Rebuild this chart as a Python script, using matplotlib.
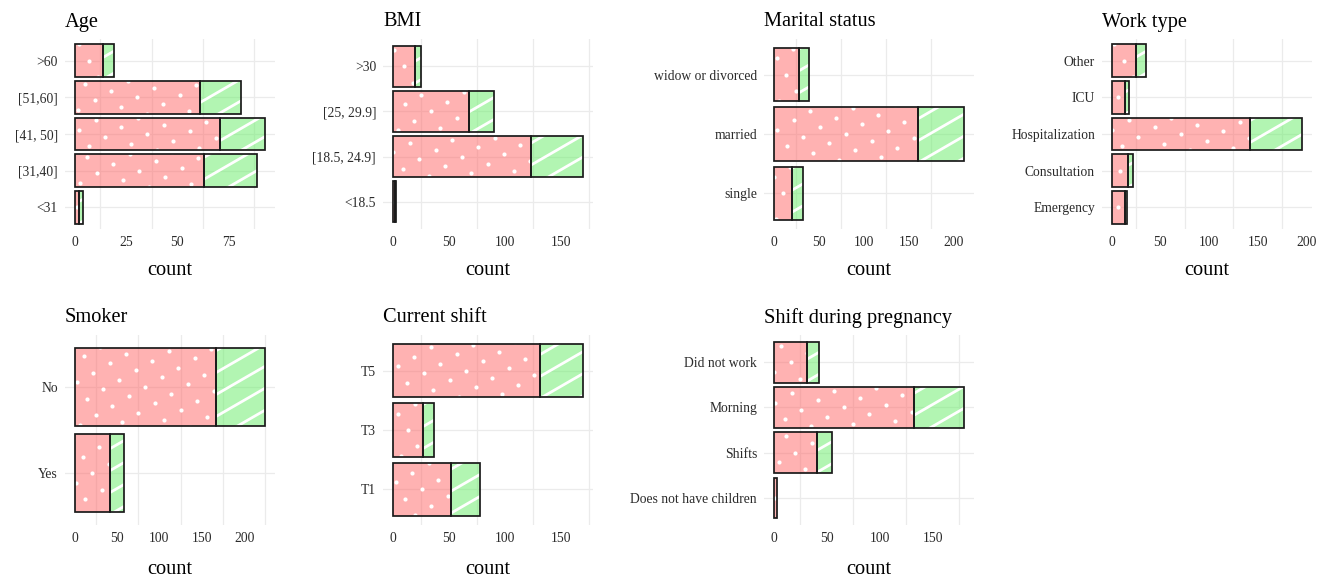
import numpy as np
import matplotlib
matplotlib.use('Agg')
import matplotlib.pyplot as plt

plt.rcParams['font.family'] = ['Liberation Serif', 'DejaVu Serif']

# data: categories listed bottom to top, counts per group (pink = first, green = second)
age_cats = ['<31', '[31,40]', '[41, 50]', '[51,60]', '>60']
age_pink = [2, 63, 71, 61, 14]
age_green = [2, 26, 22, 20, 5]

bmi_cats = ['<18.5', '[18.5, 24.9]', '[25, 29.9]', '>30']
bmi_pink = [2, 123, 68, 20]
bmi_green = [1, 47, 22, 5]

marital_cats = ['single', 'married', 'widow or divorced']
marital_pink = [21, 160, 28]
marital_green = [12, 52, 11]

work_cats = ['Emergency', 'Consultation', 'Hospitalization', 'ICU', 'Other']
work_pink = [14, 17, 142, 14, 25]
work_green = [2, 5, 54, 4, 10]

smoker_cats = ['Yes', 'No']
smoker_pink = [42, 167]
smoker_green = [16, 58]

shift_cats = ['T1', 'T3', 'T5']
shift_pink = [52, 27, 131]
shift_green = [26, 10, 39]

preg_cats = ['Does not have children', 'Shifts', 'Morning', 'Did not work']
preg_pink = [3, 41, 132, 32]
preg_green = [0, 14, 48, 11]

PINK = (1.0, 0.40, 0.40, 0.5)
GREEN = (0.40, 0.93, 0.40, 0.5)
GRID = '#EBEBEB'
SP = 19.0  # pattern spacing in pixels
ANG = np.deg2rad(30)

W, H = 1330, 578
fig = plt.figure(figsize=(W / 100, H / 100), dpi=100)


def px_axes(left, top, width=210, height=190):
    return fig.add_axes([left / W, 1 - (top + height) / H, width / W, height / H])


def rect_display(ax, x0, x1, y0, y1):
    pts = ax.transData.transform([[x0, y0], [x1, y1]])
    return pts[0][0], pts[1][0], pts[0][1], pts[1][1]


def add_dots(ax, rect):
    x0, y0 = rect.get_x(), rect.get_y()
    x1, y1 = x0 + rect.get_width(), y0 + rect.get_height()
    dx0, dx1, dy0, dy1 = rect_display(ax, x0, x1, y0, y1)
    u = SP * np.array([np.cos(ANG), np.sin(ANG)])
    v = SP * np.array([-np.sin(ANG), np.cos(ANG)])
    cx, cy = (dx0 + dx1) / 2, (dy0 + dy1) / 2
    r = int(np.hypot(dx1 - dx0, dy1 - dy0) / SP) + 2
    ii, jj = np.meshgrid(np.arange(-r, r + 1), np.arange(-r, r + 1))
    px = cx + ii.ravel() * u[0] + jj.ravel() * v[0]
    py = cy + ii.ravel() * u[1] + jj.ravel() * v[1]
    keep = (px > dx0 - 3) & (px < dx1 + 3) & (py > dy0 - 3) & (py < dy1 + 3)
    if not keep.any():
        return
    pts = ax.transData.inverted().transform(np.column_stack([px[keep], py[keep]]))
    sc = ax.scatter(pts[:, 0], pts[:, 1], s=9, color='white', linewidths=0, zorder=3)
    sc.set_clip_path(rect)


def add_stripes(ax, rect):
    x0, y0 = rect.get_x(), rect.get_y()
    x1, y1 = x0 + rect.get_width(), y0 + rect.get_height()
    dx0, dx1, dy0, dy1 = rect_display(ax, x0, x1, y0, y1)
    d = np.array([np.cos(ANG), np.sin(ANG)])
    nrm = np.array([-np.sin(ANG), np.cos(ANG)])
    cx, cy = (dx0 + dx1) / 2, (dy0 + dy1) / 2
    L = np.hypot(dx1 - dx0, dy1 - dy0)
    r = int(L / SP) + 2
    inv = ax.transData.inverted()
    for k in range(-r, r + 1):
        c = np.array([cx, cy]) + (k + 0.3) * SP * nrm
        seg = inv.transform([c - L * d, c + L * d])
        ln, = ax.plot(seg[:, 0], seg[:, 1], color='white', lw=2.0,
                      solid_capstyle='butt', zorder=3)
        ln.set_clip_path(rect)


def draw_panel(ax, cats, pink, green, ticks, title, lpad):
    n = len(cats)
    y = np.arange(n)
    pink = np.array(pink)
    green = np.array(green)
    xmax = (pink + green).max()
    ax.set_xlim(-0.05 * xmax, 1.05 * xmax)
    ax.set_ylim(-0.6, n - 1 + 0.6)

    bp = ax.barh(y, pink, height=0.9, color=PINK, edgecolor='none', zorder=2)
    bg = ax.barh(y, green, left=pink, height=0.9, color=GREEN, edgecolor='none', zorder=2)
    for rc, val in zip(bp, pink):
        if val > 0:
            add_dots(ax, rc)
    for rc, val in zip(bg, green):
        if val > 0:
            add_stripes(ax, rc)
    ax.barh(y, pink, height=0.9, fill=False, edgecolor='#1a1a1a', lw=1.25, zorder=4)
    ax.barh([yy for yy, g in zip(y, green) if g > 0], [g for g in green if g > 0],
            left=[p for p, g in zip(pink, green) if g > 0], height=0.9,
            fill=False, edgecolor='#1a1a1a', lw=1.25, zorder=4)

    ax.set_yticks(y)
    ax.set_yticklabels(cats)
    ax.set_xticks(ticks)
    step = ticks[1] - ticks[0]
    ax.set_xticks(np.arange(step / 2, 1.05 * xmax, step), minor=True)
    ax.grid(axis='y', which='major', color=GRID, lw=0.9, zorder=0)
    ax.grid(axis='x', which='minor', color=GRID, lw=0.9, zorder=0)
    ax.set_axisbelow(True)
    for s in ax.spines.values():
        s.set_visible(False)
    ax.tick_params(which='both', length=0)
    ax.tick_params(axis='x', labelsize=9.8, labelcolor='#2b2b2b', pad=5)
    ax.tick_params(axis='y', labelsize=9.8, labelcolor='#2b2b2b', pad=5)
    ax.set_xlabel('count', fontsize=14.7, labelpad=lpad)
    ax.set_title(title, loc='left', fontsize=14.7, pad=9)


panels = [
    (65, 39, age_cats, age_pink, age_green, [0, 25, 50, 75], 'Age'),
    (383, 39, bmi_cats, bmi_pink, bmi_green, [0, 50, 100, 150], 'BMI'),
    (764, 39, marital_cats, marital_pink, marital_green, [0, 50, 100, 150, 200], 'Marital status'),
    (1102, 39, work_cats, work_pink, work_green, [0, 50, 100, 150, 200], 'Work type'),
    (65, 335, smoker_cats, smoker_pink, smoker_green, [0, 50, 100, 150, 200], 'Smoker'),
    (383, 335, shift_cats, shift_pink, shift_green, [0, 50, 100, 150], 'Current shift'),
    (764, 335, preg_cats, preg_pink, preg_green, [0, 50, 100, 150], 'Shift during pregnancy'),
]

for left, top, cats, p, g, ticks, title in panels:
    ax = px_axes(left, top)
    draw_panel(ax, cats, p, g, ticks, title, 8.5 if top < 100 else 11)

fig.savefig('out.png', dpi=100, facecolor='white')
